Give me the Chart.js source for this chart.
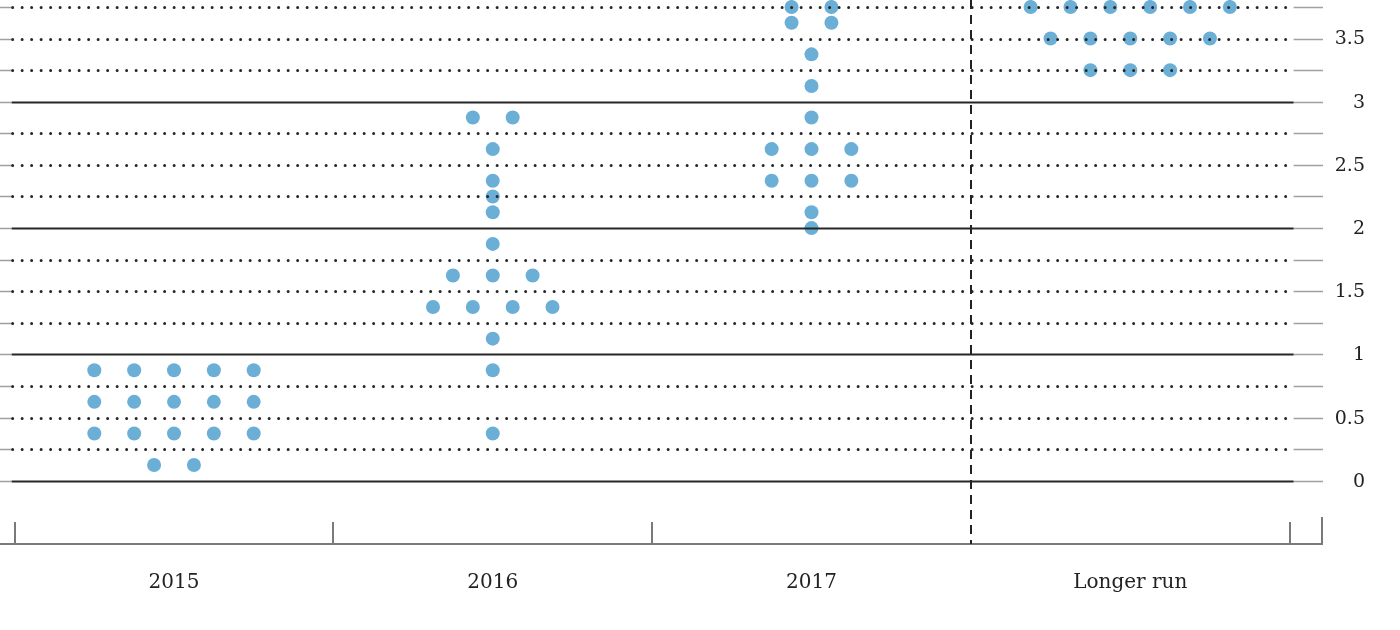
<!DOCTYPE html>
<html>
<head>
<meta charset="utf-8">
<script src="https://cdn.jsdelivr.net/npm/chart.js@4.4.1/dist/chart.umd.min.js"></script>
<style>
  html, body { margin: 0; padding: 0; background: #fff; }
  #wrap { width: 1400px; height: 630px; position: relative; }
</style>
</head>
<body>
<div id="wrap"><canvas id="dots"></canvas></div>
<script>
// ============================================
// FOMC-style dot plot (projected rates)
// ============================================

const categories = ['2015', '2016', '2017', 'Longer run'];

// one value per participant
const rates2015 = [0.875, 0.875, 0.875, 0.875, 0.875,
                   0.625, 0.625, 0.625, 0.625, 0.625,
                   0.375, 0.375, 0.375, 0.375, 0.375,
                   0.125, 0.125];
const rates2016 = [2.875, 2.875, 2.625, 2.375, 2.25, 2.125, 1.875,
                   1.625, 1.625, 1.625,
                   1.375, 1.375, 1.375, 1.375,
                   1.125, 0.875, 0.375];
const rates2017 = [3.75, 3.75, 3.625, 3.625, 3.375, 3.125, 2.875,
                   2.625, 2.625, 2.625,
                   2.375, 2.375, 2.375,
                   2.125, 2.0];
const ratesLonger = [3.75, 3.75, 3.75, 3.75, 3.75, 3.75,
                     3.5, 3.5, 3.5, 3.5, 3.5,
                     3.25, 3.25, 3.25];

const gridValues = [0, 0.25, 0.5, 0.75, 1, 1.25, 1.5, 1.75, 2, 2.25, 2.5, 2.75, 3, 3.25, 3.5, 3.75];
const yTickLabels = [0, 0.5, 1, 1.5, 2, 2.5, 3, 3.5];

const DOT_COLOR = '#6BAED6';
const DOT_STEP = 0.125;   // horizontal spacing of dots sharing a value, in category units

// spread dots with the same value side by side, centred on the category
function swarm(values, catIndex) {
    const counts = {};
    values.forEach(v => { counts[v] = (counts[v] || 0) + 1; });
    const seen = {};
    return values.map(v => {
        const n = counts[v];
        const k = seen[v] || 0;
        seen[v] = k + 1;
        return { x: catIndex + (k - (n - 1) / 2) * DOT_STEP, y: v };
    });
}

const allPoints = []
    .concat(swarm(rates2015, 0))
    .concat(swarm(rates2016, 1))
    .concat(swarm(rates2017, 2))
    .concat(swarm(ratesLonger, 3));

const frame = {
    id: 'frame',
    afterDatasetsDraw(chart) {
        const ctx = chart.ctx;
        const area = chart.chartArea;
        const xs = chart.scales.x;
        const ys = chart.scales.y;
        const xL = xs.getPixelForValue(-0.5);
        const xR = xs.getPixelForValue(3.5);
        const darkStart = xL - 3;
        const darkEnd = xR + 4;

        ctx.save();
        gridValues.forEach(v => {
            const y = Math.round(ys.getPixelForValue(v)) + 0.5;
            const solid = Number.isInteger(v);
            // light stubs on both sides
            ctx.setLineDash([]);
            ctx.lineCap = 'butt';
            ctx.strokeStyle = '#a0a0a0';
            ctx.lineWidth = 1.5;
            ctx.beginPath();
            ctx.moveTo(area.left, y); ctx.lineTo(darkStart, y);
            ctx.moveTo(darkEnd, y); ctx.lineTo(area.right, y);
            ctx.stroke();

            ctx.strokeStyle = '#262626';
            ctx.beginPath();
            if (solid) {
                ctx.lineWidth = 2;
                ctx.moveTo(darkStart, y); ctx.lineTo(darkEnd, y);
            } else {
                ctx.lineWidth = 3;
                ctx.lineCap = 'round';
                ctx.setLineDash([0, 9.5]);
                ctx.moveTo(darkStart + 1, y); ctx.lineTo(darkEnd - 6, y);
            }
            ctx.stroke();
        });

        // bottom axis with category boundary ticks
        const yb = ys.getPixelForValue(-0.5);
        ctx.setLineDash([]);
        ctx.lineCap = 'butt';
        ctx.strokeStyle = '#7a7a7a';
        ctx.lineWidth = 2;
        ctx.beginPath();
        ctx.moveTo(area.left, yb); ctx.lineTo(area.right, yb);
        [-0.5, 0.5, 1.5, 3.5].forEach(b => {
            const x = Math.round(xs.getPixelForValue(b));
            ctx.moveTo(x, yb); ctx.lineTo(x, yb - 22);
        });
        ctx.moveTo(area.right - 1, yb); ctx.lineTo(area.right - 1, yb - 27);
        ctx.stroke();

        // dashed separator before "Longer run"
        const xd = Math.round(xs.getPixelForValue(2.5));
        ctx.strokeStyle = '#222';
        ctx.lineWidth = 2;
        ctx.setLineDash([9, 6]);
        ctx.beginPath();
        ctx.moveTo(xd, area.top); ctx.lineTo(xd, yb);
        ctx.stroke();
        ctx.setLineDash([]);

        // labels
        ctx.fillStyle = '#222';
        ctx.font = '20px "DejaVu Serif", serif';
        ctx.textAlign = 'center';
        ctx.textBaseline = 'middle';
        categories.forEach((c, i) => {
            ctx.fillText(c, xs.getPixelForValue(i), 583);
        });
        ctx.font = '19px "DejaVu Serif", serif';
        ctx.textAlign = 'right';
        yTickLabels.forEach(v => {
            ctx.fillText(String(v), 1365, ys.getPixelForValue(v) + 1);
        });
        ctx.restore();
    }
};

new Chart(document.getElementById('dots'), {
    type: 'scatter',
    data: {
        datasets: [{
            data: allPoints,
            backgroundColor: DOT_COLOR,
            borderWidth: 0,
            pointRadius: 7,
            pointHoverRadius: 7,
            clip: false
        }]
    },
    options: {
        responsive: true,
        maintainAspectRatio: false,
        animation: false,
        events: [],
        layout: { autoPadding: false, padding: { top: 0, left: 0, right: 77, bottom: 86 } },
        plugins: { legend: { display: false }, tooltip: { enabled: false } },
        scales: {
            x: { type: 'linear', min: -0.5459, max: 3.6047, display: false },
            y: { type: 'linear', min: -0.5, max: 3.805, display: false }
        }
    },
    plugins: [frame]
});
</script>
</body>
</html>
